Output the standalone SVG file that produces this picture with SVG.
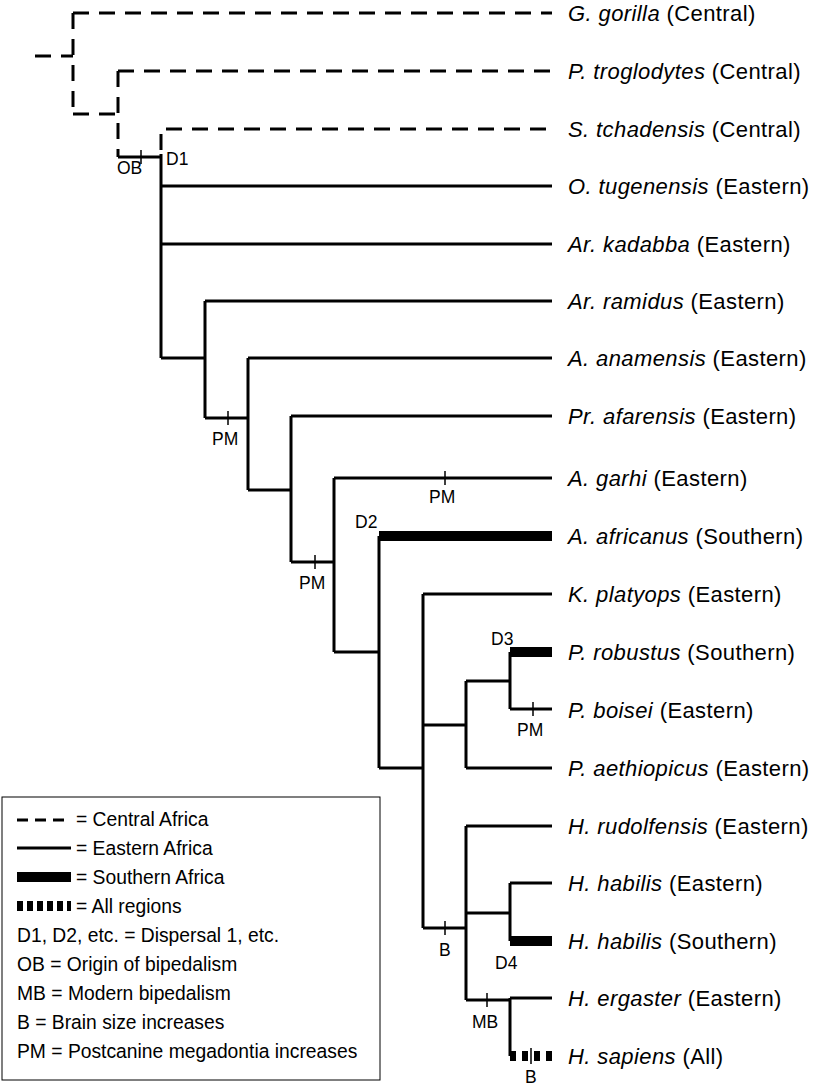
<svg xmlns="http://www.w3.org/2000/svg" width="814" height="1085" viewBox="0 0 814 1085">
<style>
text{font-family:"Liberation Sans",Arial,sans-serif;font-size:17px;fill:#000}
.t{font-size:22px;letter-spacing:0.4px}
.s{font-size:17.5px}
.l{font-size:19.3px}
path,line{fill:none;stroke:#000}
.c{stroke-width:3;stroke-dasharray:16 10}
.e{stroke-width:3}
.w{stroke-width:10}
.a{stroke-width:10;stroke-dasharray:6 6}
.k{stroke-width:1.5}
</style>
<rect width="814" height="1085" fill="#fff"/>
<g id="connectors">
<path class="c" d="M35 56H73M73 13V114M73 13H552M73 114H118M118 71V157M118 71H552M161 150V129H552"/>
<path class="e" d="M118 157H161"/>
<path class="e" d="M161 154V358M161 186H552M161 244H552M161 358H205M205 301V418M205 301H552M205 418H248M248 358V490M248 358H552M248 490H291M291 416V562M291 416H552M291 562H334M334 478V652M334 478H552M334 652H379M379 536V768M379 768H423M423 594V928M423 594H552M423 725H466M466 681V768M466 768H552M466 681H510M510 652V709M510 709H552M423 928H466M466 826V1000M466 826H552M466 913H510M510 883V941M510 883H552M466 1000H510M510 998V1056M510 998H552"/>
<path class="w" d="M379 536H552M510 652H552M510 941H552"/>
<path class="a" d="M510 1056H552"/>
<path class="k" d="M141 150V164M228 411V425M315 555V569M445 471V485M533 702V716M445 921V935M487 993V1007M531 1048V1064"/>
</g>
<g id="marks">
<text class="s" x="117" y="174">OB</text><text class="s" x="166" y="165">D1</text>
<text class="s" x="212" y="445">PM</text><text class="s" x="299" y="589">PM</text><text class="s" x="429" y="503">PM</text>
<text class="s" x="355" y="528">D2</text><text class="s" x="491" y="645">D3</text><text class="s" x="517" y="736">PM</text>
<text class="s" x="439" y="956">B</text><text class="s" x="495" y="969">D4</text><text class="s" x="472" y="1028">MB</text><text class="s" x="525" y="1083">B</text>
</g>
<g id="tips">
<text class="t" x="568" y="21"><tspan font-style="italic">G. gorilla</tspan> (Central)</text>
<text class="t" x="568" y="79"><tspan font-style="italic">P. troglodytes</tspan> (Central)</text>
<text class="t" x="568" y="137"><tspan font-style="italic">S. tchadensis</tspan> (Central)</text>
<text class="t" x="568" y="194"><tspan font-style="italic">O. tugenensis</tspan> (Eastern)</text>
<text class="t" x="568" y="252"><tspan font-style="italic">Ar. kadabba</tspan> (Eastern)</text>
<text class="t" x="568" y="309"><tspan font-style="italic">Ar. ramidus</tspan> (Eastern)</text>
<text class="t" x="568" y="366"><tspan font-style="italic">A. anamensis</tspan> (Eastern)</text>
<text class="t" x="568" y="424"><tspan font-style="italic">Pr. afarensis</tspan> (Eastern)</text>
<text class="t" x="568" y="486"><tspan font-style="italic">A. garhi</tspan> (Eastern)</text>
<text class="t" x="568" y="544"><tspan font-style="italic">A. africanus</tspan> (Southern)</text>
<text class="t" x="568" y="602"><tspan font-style="italic">K. platyops</tspan> (Eastern)</text>
<text class="t" x="568" y="660"><tspan font-style="italic">P. robustus</tspan> (Southern)</text>
<text class="t" x="568" y="718"><tspan font-style="italic">P. boisei</tspan> (Eastern)</text>
<text class="t" x="568" y="776"><tspan font-style="italic">P. aethiopicus</tspan> (Eastern)</text>
<text class="t" x="568" y="834"><tspan font-style="italic">H. rudolfensis</tspan> (Eastern)</text>
<text class="t" x="568" y="891"><tspan font-style="italic">H. habilis</tspan> (Eastern)</text>
<text class="t" x="568" y="949"><tspan font-style="italic">H. habilis</tspan> (Southern)</text>
<text class="t" x="568" y="1006"><tspan font-style="italic">H. ergaster</tspan> (Eastern)</text>
<text class="t" x="568" y="1064"><tspan font-style="italic">H. sapiens</tspan> (All)</text>
</g>
<g id="legend">
<rect x="2" y="797" width="378" height="283" fill="none" stroke="#000" stroke-width="1"/>
<line class="c" x1="17" y1="820" x2="71" y2="820" style="stroke-dasharray:11 7"/>
<line class="e" x1="17" y1="848" x2="71" y2="848"/>
<line class="w" x1="17" y1="877" x2="71" y2="877"/>
<line class="a" x1="17" y1="906" x2="71" y2="906" style="stroke-dasharray:6 4"/>
<text class="l" x="76" y="826">= Central Africa</text>
<text class="l" x="76" y="855">= Eastern Africa</text>
<text class="l" x="76" y="884">= Southern Africa</text>
<text class="l" x="76" y="913">= All regions</text>
<text class="l" x="17" y="942">D1, D2, etc. = Dispersal 1, etc.</text>
<text class="l" x="17" y="971">OB = Origin of bipedalism</text>
<text class="l" x="17" y="1000">MB = Modern bipedalism</text>
<text class="l" x="17" y="1029">B = Brain size increases</text>
<text class="l" x="17" y="1058">PM = Postcanine megadontia increases</text>
</g>
</svg>
